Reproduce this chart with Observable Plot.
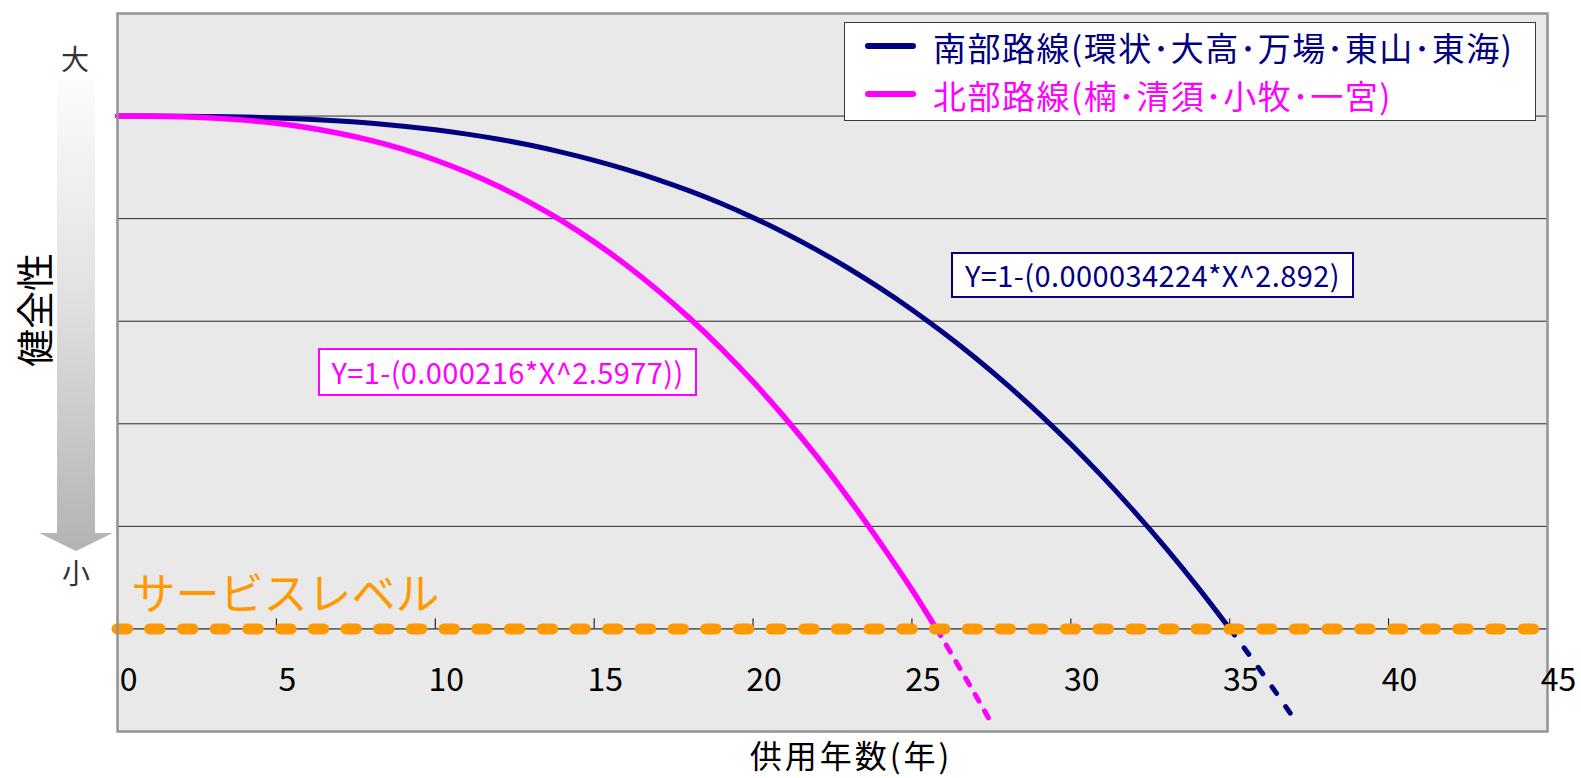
<!DOCTYPE html>
<html><head><meta charset="utf-8">
<script src="https://cdn.jsdelivr.net/npm/d3@7"></script>
<script src="https://cdn.jsdelivr.net/npm/@observablehq/plot@0.6"></script>
<style>
html,body{margin:0;padding:0;background:#fff;}
#wrap{position:relative;width:1581px;height:778px;font-family:"Noto Sans CJK JP","Noto Sans",sans-serif;overflow:hidden;}
#wrap svg{position:absolute;left:0;top:0;}
.ov{position:absolute;white-space:nowrap;line-height:1;}
</style></head><body><div id="wrap"></div>
<script>
// ---- data ----
const xTicks = [0, 5, 10, 15, 20, 25, 30, 35, 40, 45];
const gridLevels = [0.2, 0.4, 0.6, 0.8, 1.0];
const serviceLevel = 0;
const serviceLabel = "サービスレベル";
const xLabel = "供用年数(年)";
const yLabel = "健全性";
const yTopLabel = "大";
const yBottomLabel = "小";
const seriesNames = ["南部路線(環状･大高･万場･東山･東海)", "北部路線(楠･清須･小牧･一宮)"];
const equations = ["Y=1-(0.000034224*X^2.892)", "Y=1-(0.000216*X^2.5977))"];

const southYears = [0,1,2,3,4,5,6,7,8,9,10,11,12,13,14,15,16,17,18,19,20,21,22,23,24,25,26,27,28,29,30,31,32,33,34,35];
const southHealth = [1.0000,1.0000,0.9997,0.9992,0.9981,0.9964,0.9939,0.9905,0.9860,0.9803,0.9733,0.9648,0.9548,0.9430,0.9293,0.9137,0.8961,0.8762,0.8540,0.8294,0.8020,0.7720,0.7391,0.7033,0.6644,0.6224,0.5770,0.5283,0.4759,0.4199,0.3601,0.2965,0.2289,0.1571,0.0810,0.0006];
const southExtYears = [35, 35.5, 36, 36.5, 37];
const southExtHealth = [0.0006, -0.041, -0.084, -0.128, -0.173];

const northYears = [0,1,2,3,4,5,6,7,8,9,10,11,12,13,14,15,16,17,18,19,20,21,22,23,24,25,25.77];
const northHealth = [1.0000,0.9998,0.9987,0.9963,0.9921,0.9859,0.9773,0.9661,0.9521,0.9350,0.9144,0.8904,0.8626,0.8309,0.7950,0.7547,0.7099,0.6604,0.6060,0.5466,0.4820,0.4120,0.3366,0.2552,0.1680,0.0764,0.0000];
const northExtYears = [25.77, 26, 26.5, 27, 27.55];
const northExtHealth = [0.0000, -0.023, -0.076, -0.129, -0.189];

// ---- styles ----
const FONT = '"Noto Sans CJK JP","Noto Sans",sans-serif';
const NAVY = "#000080", PINK = "#ff00ff", ORANGE = "#ff9900";

const pts = (xs, ys) => xs.map((x, i) => ({x, y: ys[i]}));
const south = pts(southYears, southHealth);
const southExt = pts(southExtYears, southExtHealth);
const north = pts(northYears, northHealth);
const northExt = pts(northExtYears, northExtHealth);

const chart = Plot.plot({
  width: 1581, height: 778,
  marginLeft: 117, marginRight: 34, marginTop: 13, marginBottom: 47,
  x: {domain: [0, 45], axis: null},
  y: {domain: [-0.2, 1.2], axis: null},
  style: {fontFamily: FONT, background: "transparent", overflow: "visible"},
  marks: [
    Plot.frame({fill: "#e9e9e9", stroke: null}),
    Plot.ruleY(gridLevels, {stroke: "#2a2a2a", strokeWidth: 1}),
    Plot.ruleY([serviceLevel], {stroke: "#000", strokeWidth: 1}),
    Plot.ruleX(xTicks, {y1: serviceLevel, y2: serviceLevel, insetTop: -10, stroke: "#000", strokeWidth: 1}),
    Plot.line(south, {x: "x", y: "y", stroke: NAVY, strokeWidth: 5, curve: "natural"}),
    Plot.line(southExt, {x: "x", y: "y", stroke: NAVY, strokeWidth: 5, curve: "natural", strokeDasharray: "8,16"}),
    Plot.line(north, {x: "x", y: "y", stroke: PINK, strokeWidth: 5.5, curve: "natural"}),
    Plot.line(northExt, {x: "x", y: "y", stroke: PINK, strokeWidth: 5, curve: "natural", strokeDasharray: "8,11"}),
    Plot.ruleY([serviceLevel], {stroke: ORANGE, strokeWidth: 11, strokeLinecap: "round", strokeDasharray: "10.5,22.2"}),
    Plot.frame({stroke: "#939393", strokeWidth: 2.5}),
    Plot.text(xTicks, {x: d => d, frameAnchor: "bottom", dy: -51, dx: 11, text: d => String(d), fontSize: 32, fill: "#000", lineAnchor: "middle"}),
    Plot.text([serviceLabel], {x: xTicks[0], y: serviceLevel, text: d => d, textAnchor: "start", dx: 14, dy: -33, fontSize: 44, fill: ORANGE, lineAnchor: "middle"})
  ]
});
const wrap = document.getElementById("wrap");
wrap.appendChild(chart);

function add(html, css) {
  const d = document.createElement("div");
  d.className = "ov";
  d.textContent = html;
  Object.assign(d.style, css);
  wrap.appendChild(d);
  return d;
}

// x-axis title
add(xLabel, {left: "851px", top: "756px", fontSize: "32px", letterSpacing: "3px", color: "#000", transform: "translate(-50%,-55%)"});

// legend
add("", {left: "844px", top: "22px", width: "692px", height: "99px", boxSizing: "border-box", background: "#fff", border: "1.5px solid #3a3a3a"});
const legendColors = [NAVY, PINK];
const legendCenters = [46, 94];
seriesNames.forEach((name, i) => {
  add("", {left: "865px", top: (legendCenters[i] - 3) + "px", width: "51px", height: "6px", borderRadius: "3px", background: legendColors[i]});
  add(name, {left: "933px", top: (legendCenters[i] + 3 - 0.55 * 33) + "px", fontSize: "33px", letterSpacing: "1.5px", color: legendColors[i]});
});

// equation boxes
const eqBoxes = [
  {left: 951, top: 252, w: 403, h: 46, color: NAVY},
  {left: 318, top: 348, w: 379, h: 48, color: PINK}
];
equations.forEach((eq, i) => {
  const b = eqBoxes[i];
  add(eq, {left: b.left + "px", top: b.top + "px", width: b.w + "px", height: b.h + "px", boxSizing: "border-box",
    background: "#fff", border: "2px solid " + b.color, color: b.color, fontSize: "29px", letterSpacing: "0.4px",
    display: "flex", alignItems: "center", justifyContent: "center", paddingBottom: "2px"});
});

// left arrow with gradient
add("", {left: "39px", top: "78px", width: "74px", height: "473px",
  background: "linear-gradient(to bottom, #fcfcfc 0%, #e2e2e2 45%, #b3b3b3 100%)",
  clipPath: "polygon(18px 0, 56px 0, 56px 455px, 74px 455px, 37px 473px, 0 455px, 18px 455px)"});
add(yTopLabel, {left: "61px", top: (59 - 0.55 * 28) + "px", fontSize: "28px", color: "#333"});
add(yBottomLabel, {left: "62px", top: (573 - 0.55 * 28) + "px", fontSize: "28px", color: "#333"});
add(yLabel, {left: "32.5px", top: "310px", fontSize: "38px", color: "#000", transform: "translate(-50%,-50%) rotate(-90deg)"});
</script></body></html>
